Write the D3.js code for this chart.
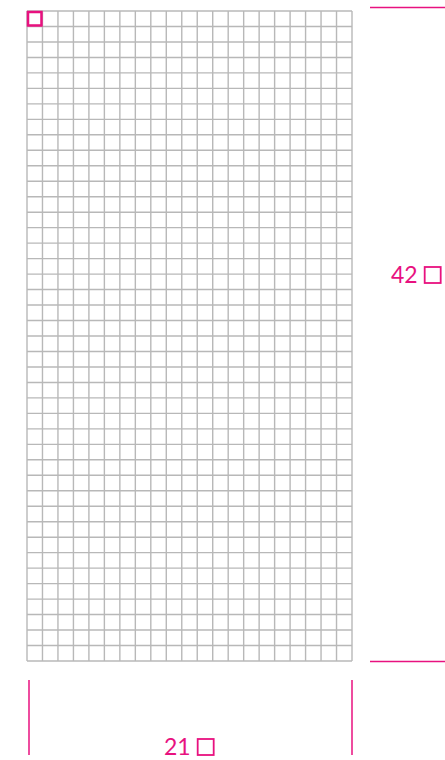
<!DOCTYPE html>
<html>
<head>
<meta charset="utf-8">
<script src="https://cdn.jsdelivr.net/npm/d3@7"></script>
<style>
  body { margin: 0; background: #fff; }
  svg { display: block; }
</style>
</head>
<body>
<div id="chart"></div>
<script>
// grid size and labels
const colCount = 21;
const rowCount = 42;
const highlightCells = [{ col: 0, row: 0 }];
const widthLabel = '21';
const heightLabel = '42';

const width = 445;
const height = 760;
const margin = { top: 11, left: 27 };
const cell = 325 / 21;
const pink = '#e8117f';
const gridColor = '#b8b8b8';

const svg = d3.select('#chart')
  .append('svg')
  .attr('width', width)
  .attr('height', height);

const x = d3.scaleLinear()
  .domain([0, colCount])
  .range([margin.left, margin.left + colCount * cell]);

const y = d3.scaleLinear()
  .domain([0, rowCount])
  .range([margin.top, margin.top + rowCount * cell]);

const grid = svg.append('g')
  .attr('stroke', gridColor)
  .attr('stroke-width', 1.4);

grid.selectAll('line.v')
  .data(d3.range(colCount + 1))
  .join('line')
    .attr('class', 'v')
    .attr('x1', d => x(d))
    .attr('x2', d => x(d))
    .attr('y1', y(0))
    .attr('y2', y(rowCount));

grid.selectAll('line.h')
  .data(d3.range(rowCount + 1))
  .join('line')
    .attr('class', 'h')
    .attr('x1', x(0))
    .attr('x2', x(colCount))
    .attr('y1', d => y(d))
    .attr('y2', d => y(d));

// the unit cell
svg.selectAll('rect.unit')
  .data(highlightCells)
  .join('rect')
    .attr('class', 'unit')
    .attr('x', d => x(d.col) + 1)
    .attr('y', d => y(d.row) + 1)
    .attr('width', cell - 2)
    .attr('height', cell - 2)
    .attr('fill', 'none')
    .attr('stroke', pink)
    .attr('stroke-width', 2.5);

// height dimension on the right
const dim = svg.append('g').attr('stroke', pink).attr('stroke-width', 1.5);
dim.append('line')
  .attr('x1', 370).attr('x2', width)
  .attr('y1', y(0) - 3.5).attr('y2', y(0) - 3.5);
dim.append('line')
  .attr('x1', 370).attr('x2', width)
  .attr('y1', y(rowCount) + 0.5).attr('y2', y(rowCount) + 0.5);

// width dimension at the bottom
dim.append('line')
  .attr('x1', x(0) + 2).attr('x2', x(0) + 2)
  .attr('y1', 680).attr('y2', 755);
dim.append('line')
  .attr('x1', x(colCount)).attr('x2', x(colCount))
  .attr('y1', 680).attr('y2', 755);

function dimLabel(g, text, tx, ty) {
  const t = g.append('text')
    .attr('x', tx)
    .attr('y', ty)
    .attr('fill', pink)
    .attr('font-family', 'Lato, sans-serif')
    .attr('font-size', 23)
    .text(text);
  const w = t.node().getComputedTextLength();
  g.append('rect')
    .attr('x', tx + w + 7)
    .attr('y', ty - 16)
    .attr('width', 16)
    .attr('height', 16)
    .attr('fill', 'none')
    .attr('stroke', pink)
    .attr('stroke-width', 1.8);
}

dimLabel(svg.append('g'), heightLabel, 391, 283);
dimLabel(svg.append('g'), widthLabel, 164, 755);
</script>
</body>
</html>
